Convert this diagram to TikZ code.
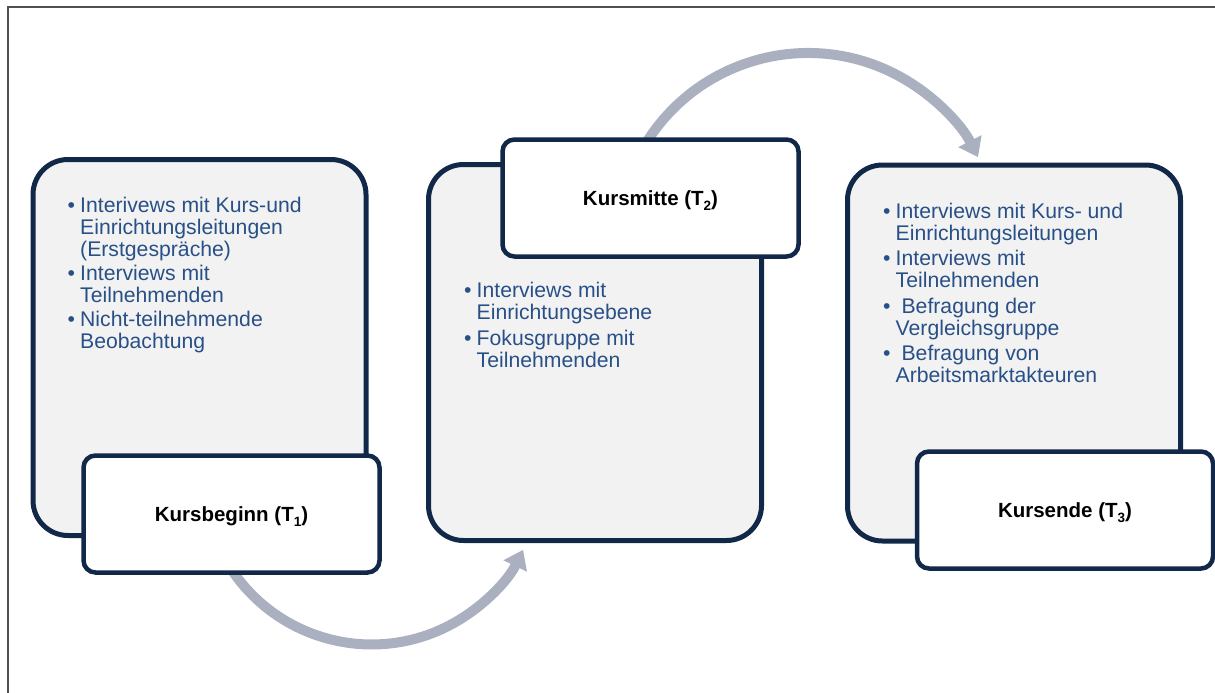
\documentclass[tikz,border=0pt]{standalone}
\usepackage{fontspec}
\setmainfont{Liberation Sans}
\usetikzlibrary{arrows.meta}
\definecolor{navy}{RGB}{18,40,72}
\definecolor{boxfill}{RGB}{242,242,242}
\definecolor{txtblue}{RGB}{40,80,135}
\definecolor{arrgray}{RGB}{170,176,191}
\definecolor{framegray}{RGB}{80,80,80}
\newcommand{\bul}{\makebox[12.5pt][l]{\textbullet}}
\newcommand{\ind}{\hspace*{12.5pt}}
\newcommand{\subidx}[1]{\raisebox{-4.5pt}{\fontsize{13.5}{13.5}\selectfont #1}}
\begin{document}
\begin{tikzpicture}[x=1pt,y=-1pt,
  bigbox/.style={draw=navy, line width=5pt, fill=boxfill, rounded corners=35pt,
    minimum width=333pt, minimum height=376pt, inner sep=0pt},
  labelbox/.style={draw=navy, line width=4.5pt, fill=white, rounded corners=12pt,
    minimum width=296pt, minimum height=117pt, inner sep=0pt,
    font=\fontsize{20.5}{24}\selectfont\bfseries, text height=15pt, text depth=0pt},
  txt/.style={anchor=base west, inner sep=0pt, text=txtblue,
    font=\fontsize{21.2}{22.5}\selectfont},
  arr/.style={draw=arrgray, line width=10pt, -{Triangle[width=25pt,length=18pt]}},
  frameline/.style={draw=framegray, line width=1.5pt}]
\useasboundingbox (0,0) rectangle (1215,693);
\draw[frameline] (8,693) -- (8,7) -- (1215,7);

% arrows
\coordinate (a1s) at (225.7,560.2);
\draw[arr] (a1s) arc[start angle=150, end angle=26, radius=168.5];
\coordinate (a2s) at (642.8,148.4);
\draw[arr] (a2s) arc[start angle=-150, end angle=-27, radius=190.8];

% panels
\node[bigbox] (p1) at (199.5,347.5) {};
\node[bigbox] (p2) at (595,352.5) {};
\node[bigbox] (p3) at (1014,353) {};

% texts
\foreach \y/\t [count=\i] in {212/{\bul Interivews mit Kurs-und}, 234/{\ind Einrichtungsleitungen},
  256/{\ind (Erstgespräche)}, 280/{\bul Interviews mit}, 302/{\ind Teilnehmenden},
  326/{\bul Nicht-teilnehmende}, 348/{\ind Beobachtung}}
  \node[txt] (t1-\i) at (67.5,\y) {\t};
\foreach \y/\t [count=\i] in {297/{\bul Interviews mit}, 319/{\ind Einrichtungsebene},
  345/{\bul Fokusgruppe mit}, 367/{\ind Teilnehmenden}}
  \node[txt] (t2-\i) at (464,\y) {\t};
\foreach \y/\t [count=\i] in {218/{\bul Interviews mit Kurs- und}, 240/{\ind Einrichtungsleitungen},
  265/{\bul Interviews mit}, 287/{\ind Teilnehmenden},
  313/{\bul\ Befragung der}, 335/{\ind Vergleichsgruppe},
  360/{\bul\ Befragung von}, 382/{\ind Arbeitsmarktakteuren}}
  \node[txt] (t3-\i) at (883,\y) {\t};

% labels
\node[labelbox] (l1) at (231.5,514) {Kursbeginn (T\subidx{1})};
\node[labelbox] (l2) at (650.5,198) {Kursmitte (T\subidx{2})};
\node[labelbox] (l3) at (1065,510) {Kursende (T\subidx{3})};
\end{tikzpicture}
\end{document}
